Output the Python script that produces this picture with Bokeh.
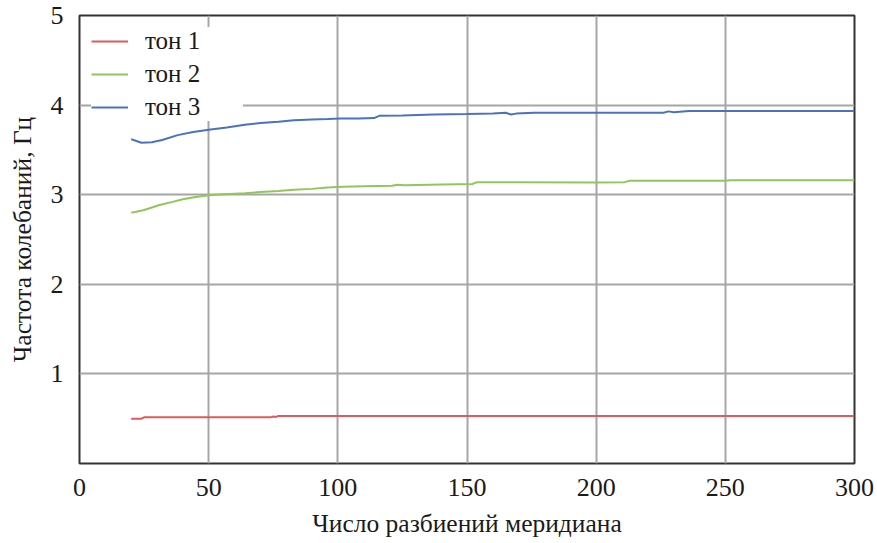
from bokeh.plotting import figure
from bokeh.models import Range1d, FixedTicker, Legend, LegendItem
from bokeh.embed import file_html
from bokeh.resources import INLINE

# ---- data ----
series_names = ["тон 1", "тон 2", "тон 3"]

red_x = [20, 24, 25, 74, 75, 76, 77, 300]
red_y = [0.50, 0.50, 0.515, 0.515, 0.525, 0.52, 0.53, 0.53]

green_x = [20, 22, 25, 31, 36, 40, 45, 50, 56, 64, 70, 77, 83, 90, 96, 102, 110,
           121, 123, 126, 140, 152, 154, 170, 200, 211, 213, 250, 252, 300]
green_y = [2.80, 2.81, 2.83, 2.885, 2.92, 2.95, 2.975, 2.995, 3.005, 3.015, 3.03,
           3.04, 3.055, 3.065, 3.08, 3.09, 3.095, 3.10, 3.11, 3.105, 3.115, 3.12,
           3.14, 3.14, 3.135, 3.14, 3.155, 3.155, 3.16, 3.16]

blue_x = [20, 22, 24, 28, 32, 38, 44, 50, 57, 64, 70, 77, 83, 90, 96, 101, 108,
          114, 116, 125, 137, 150, 160, 165, 167, 169, 176, 200, 226, 228, 230,
          236, 250, 300]
blue_y = [3.62, 3.60, 3.58, 3.585, 3.61, 3.665, 3.70, 3.725, 3.75, 3.78, 3.80,
          3.815, 3.83, 3.84, 3.845, 3.85, 3.85, 3.855, 3.88, 3.885, 3.895, 3.90,
          3.905, 3.915, 3.895, 3.905, 3.915, 3.915, 3.915, 3.93, 3.92, 3.935,
          3.935, 3.935]

x_ticks = [0, 50, 100, 150, 200, 250, 300]
y_ticks = [1, 2, 3, 4, 5]
x_title = "Число разбиений меридиана"
y_title = "Частота колебаний, Гц"

colors = ["#e05a5c", "#92c65a", "#4a72c0"]
FONT = "Liberation Serif"
TXT = "#1a1a1a"

p = figure(width=877, height=543, output_backend="svg", toolbar_location=None,
           x_range=Range1d(0, 300), y_range=Range1d(0, 5),
           min_border_left=79, min_border_right=23, min_border_top=15,
           min_border_bottom=80)
p.background_fill_color = "white"
p.border_fill_color = "white"
p.outline_line_color = "#333333"
p.outline_line_width = 2

# grid
p.xgrid.ticker = FixedTicker(ticks=[50, 100, 150, 200, 250])
p.ygrid.ticker = FixedTicker(ticks=[1, 2, 3, 4])
for g in (p.xgrid, p.ygrid):
    g.grid_line_color = "#a6a6a6"
    g.grid_line_width = 2

# axes
p.xaxis.ticker = FixedTicker(ticks=x_ticks)
p.yaxis.ticker = FixedTicker(ticks=y_ticks)
for ax in (p.xaxis, p.yaxis):
    ax.axis_line_color = None
    ax.major_tick_line_color = None
    ax.minor_tick_line_color = None
    ax.major_label_text_font = FONT
    ax.major_label_text_font_size = "26px"
    ax.major_label_text_color = TXT
    ax.axis_label_text_font = FONT
    ax.axis_label_text_font_size = "25.5px"
    ax.axis_label_text_font_style = "normal"
    ax.axis_label_text_color = TXT
p.xaxis.axis_label = x_title
p.yaxis.axis_label = y_title
p.xaxis.major_label_standoff = 9
p.xaxis.axis_label_standoff = 10
p.yaxis.major_label_standoff = 10
p.yaxis.axis_label_standoff = 11

r1 = p.line(red_x, red_y, line_color=colors[0], line_width=2)
r2 = p.line(green_x, green_y, line_color=colors[1], line_width=2)
r3 = p.line(blue_x, blue_y, line_color=colors[2], line_width=2)

legend = Legend(items=[LegendItem(label=series_names[0], renderers=[r1]),
                       LegendItem(label=series_names[1], renderers=[r2]),
                       LegendItem(label=series_names[2], renderers=[r3])],
                location="top_left")
legend.margin = 12
legend.padding = 12
legend.spacing = 5
legend.glyph_width = 37
legend.glyph_height = 28
legend.label_standoff = 17
legend.label_width = 98
legend.label_text_font = FONT
legend.label_text_font_size = "25px"
legend.label_text_color = TXT
legend.border_line_color = None
legend.background_fill_color = "white"
legend.background_fill_alpha = 1
p.add_layout(legend)

open("out.html", "w").write(file_html(p, INLINE))
